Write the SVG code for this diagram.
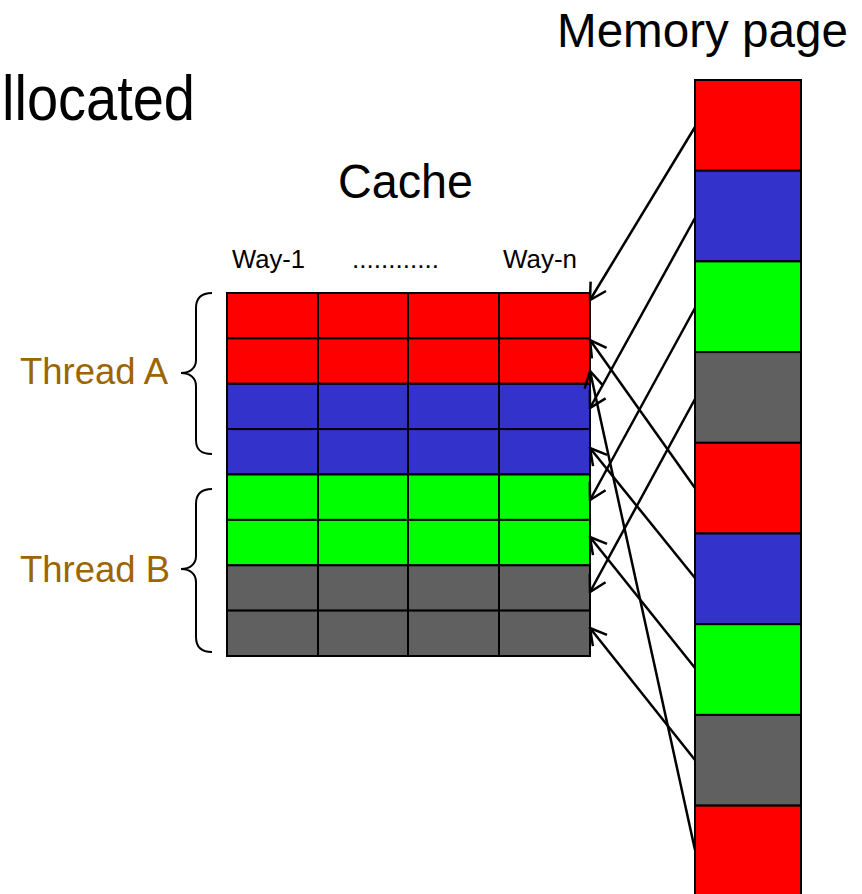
<svg xmlns="http://www.w3.org/2000/svg" width="862" height="894" viewBox="0 0 862 894">
<style>
.t{font-family:"Liberation Sans",Arial,sans-serif;fill:#000}
.thr{font-family:"Liberation Sans",Arial,sans-serif;fill:#9C6500;font-size:36px}
.cell{stroke:#000;stroke-width:2}
.r{fill:#FF0000}.b{fill:#3333CC}.g{fill:#00FF00}.k{fill:#606060}
.brace{fill:none;stroke:#000;stroke-width:2}
.conn line{stroke:#000;stroke-width:2.5;marker-end:url(#ah)}
</style>
<defs>
<marker id="ah" viewBox="0 0 22 22" refX="20" refY="11" markerWidth="22" markerHeight="22" orient="auto" markerUnits="userSpaceOnUse">
<path d="M4,2 L20,11 L4,20" fill="none" stroke="#000" stroke-width="2.5"/>
</marker>
</defs>
<rect width="862" height="894" fill="#fff"/>
<g id="title">
<text class="t" x="2" y="120" font-size="63" textLength="193" lengthAdjust="spacingAndGlyphs">llocated</text>
</g>
<g id="memory-label"><text class="t" x="557" y="47" font-size="48" textLength="291" lengthAdjust="spacingAndGlyphs">Memory page</text></g>
<g id="cache-label"><text class="t" x="338" y="198" font-size="48" textLength="135" lengthAdjust="spacingAndGlyphs">Cache</text></g>
<g id="way-labels">
<text class="t" x="232" y="268" font-size="25" textLength="73" lengthAdjust="spacingAndGlyphs">Way-1</text>
<text class="t" x="352" y="268" font-size="25" textLength="87" lengthAdjust="spacingAndGlyphs">............</text>
<text class="t" x="503" y="268" font-size="25" textLength="74" lengthAdjust="spacingAndGlyphs">Way-n</text>
</g>
<g id="cache">
<rect class="cell r" x="227" y="293" width="91" height="45.4"/><rect class="cell r" x="318" y="293" width="90" height="45.4"/><rect class="cell r" x="408" y="293" width="91" height="45.4"/><rect class="cell r" x="499" y="293" width="91" height="45.4"/>
<rect class="cell r" x="227" y="338.4" width="91" height="45.4"/><rect class="cell r" x="318" y="338.4" width="90" height="45.4"/><rect class="cell r" x="408" y="338.4" width="91" height="45.4"/><rect class="cell r" x="499" y="338.4" width="91" height="45.4"/>
<rect class="cell b" x="227" y="383.8" width="91" height="45.4"/><rect class="cell b" x="318" y="383.8" width="90" height="45.4"/><rect class="cell b" x="408" y="383.8" width="91" height="45.4"/><rect class="cell b" x="499" y="383.8" width="91" height="45.4"/>
<rect class="cell b" x="227" y="429.1" width="91" height="45.4"/><rect class="cell b" x="318" y="429.1" width="90" height="45.4"/><rect class="cell b" x="408" y="429.1" width="91" height="45.4"/><rect class="cell b" x="499" y="429.1" width="91" height="45.4"/>
<rect class="cell g" x="227" y="474.5" width="91" height="45.4"/><rect class="cell g" x="318" y="474.5" width="90" height="45.4"/><rect class="cell g" x="408" y="474.5" width="91" height="45.4"/><rect class="cell g" x="499" y="474.5" width="91" height="45.4"/>
<rect class="cell g" x="227" y="519.9" width="91" height="45.4"/><rect class="cell g" x="318" y="519.9" width="90" height="45.4"/><rect class="cell g" x="408" y="519.9" width="91" height="45.4"/><rect class="cell g" x="499" y="519.9" width="91" height="45.4"/>
<rect class="cell k" x="227" y="565.3" width="91" height="45.4"/><rect class="cell k" x="318" y="565.3" width="90" height="45.4"/><rect class="cell k" x="408" y="565.3" width="91" height="45.4"/><rect class="cell k" x="499" y="565.3" width="91" height="45.4"/>
<rect class="cell k" x="227" y="610.6" width="91" height="45.4"/><rect class="cell k" x="318" y="610.6" width="90" height="45.4"/><rect class="cell k" x="408" y="610.6" width="91" height="45.4"/><rect class="cell k" x="499" y="610.6" width="91" height="45.4"/>
</g>
<g id="memory">
<rect class="cell r" x="695" y="80" width="106" height="90.7"/>
<rect class="cell b" x="695" y="170.7" width="106" height="90.7"/>
<rect class="cell g" x="695" y="261.4" width="106" height="90.7"/>
<rect class="cell k" x="695" y="352.1" width="106" height="90.7"/>
<rect class="cell r" x="695" y="442.8" width="106" height="90.7"/>
<rect class="cell b" x="695" y="533.5" width="106" height="90.7"/>
<rect class="cell g" x="695" y="624.2" width="106" height="90.7"/>
<rect class="cell k" x="695" y="714.9" width="106" height="90.7"/>
<rect class="cell r" x="695" y="805.6" width="106" height="100"/>
</g>
<g id="thread-a">
<path class="brace" d="M212,293 C201,293 196,298 196,308 L196,360 C196,368 190,373 181,373 C190,373 196,378 196,386 L196,440 C196,450 201,454 212,454"/>
<text class="thr" x="20" y="384" textLength="148" lengthAdjust="spacingAndGlyphs">Thread A</text>
</g>
<g id="thread-b">
<path class="brace" d="M212,489 C201,489 196,494 196,504 L196,556 C196,564 190,569 181,569 C190,569 196,574 196,582 L196,637 C196,647 201,652 212,652"/>
<text class="thr" x="20" y="582" textLength="150" lengthAdjust="spacingAndGlyphs">Thread B</text>
</g>
<g id="connectors" class="conn">
<line x1="695" y1="127" x2="590" y2="300"/>
<line x1="695" y1="218" x2="590" y2="408"/>
<line x1="695" y1="308" x2="590" y2="500"/>
<line x1="695" y1="399" x2="590" y2="592"/>
<line x1="695" y1="488" x2="590" y2="340"/>
<line x1="695" y1="578" x2="590" y2="448"/>
<line x1="695" y1="668" x2="590" y2="537"/>
<line x1="695" y1="760" x2="590" y2="628"/>
<line x1="695" y1="850" x2="590" y2="371"/>
</g>
</svg>
